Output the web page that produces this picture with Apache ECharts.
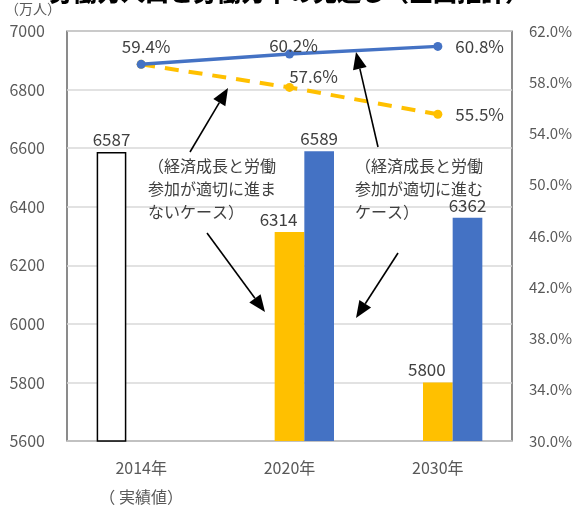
<!DOCTYPE html>
<html>
<head>
<meta charset="utf-8">
<script src="https://cdn.jsdelivr.net/npm/echarts@6/dist/echarts.min.js"></script>
<style>
  html, body { margin: 0; padding: 0; background: #fff; }
  #chart { width: 578px; height: 506px; }
</style>
</head>
<body>
<div id="chart"></div>
<script>
var years = ['2014年\n（ 実績値）', '2020年', '2030年'];
var actual = [6587, '-', '-'];
var workLow = ['-', 6314, 5800];   // 適切に進まないケース
var workHigh = ['-', 6589, 6362];  // 適切に進むケース
var rateLow = [59.4, 57.6, 55.5];
var rateHigh = [59.4, 60.2, 60.8];

var font = 'Noto Sans CJK JP';
var txt = '#404040';

function arrow(x1, y1, x2, y2){
    var dx = x2 - x1, dy = y2 - y1;
    var len = Math.sqrt(dx*dx + dy*dy);
    var ux = dx/len, uy = dy/len;
    var hl = 17, hw = 7;
    var bx = x2 - ux*hl, by = y2 - uy*hl;
    return [
        {type:'line', shape:{x1:x1, y1:y1, x2:bx, y2:by}, style:{stroke:'#000', lineWidth:1.6}, z:20},
        {type:'polygon', shape:{points:[[x2,y2],[bx - uy*hw, by + ux*hw],[bx + uy*hw, by - ux*hw]]}, style:{fill:'#000'}, z:20}
    ];
}

var chart = echarts.init(document.getElementById('chart'));
var graphics = [
    {type:'text', left:'center', top:-20, style:{text:'労働力人口と労働力率の見通し（全国推計）', font:'900 24px "' + font + '"', fill:'#000'}},
    {type:'text', left:5, top:2, style:{text:'（万人）', font:'14px "' + font + '"', fill:'#595959'}},
    {type:'text', left:148, top:154, style:{text:'（経済成長と労働\n参加が適切に進ま\nないケース）', font:'16px "' + font + '"', lineHeight:23, fill:txt}, z:20},
    {type:'text', left:355, top:154, style:{text:'（経済成長と労働\n参加が適切に進む\nケース）', font:'16px "' + font + '"', lineHeight:23, fill:txt}, z:20}
];
graphics = graphics.concat(arrow(190, 152, 228, 88), arrow(378, 147, 356, 52),
                           arrow(207, 233, 265, 312), arrow(398, 253, 356, 318));

chart.setOption({
    textStyle: {fontFamily: font},
    grid: {left:67, right:66, top:31, bottom:65, show:true, borderColor:'#404040', borderWidth:1.2, outerBoundsMode:'none', containLabel:false},
    xAxis: {
        type:'category',
        data: years,
        axisTick:{show:false},
        axisLine:{lineStyle:{color:'#bfbfbf', width:1.5}},
        axisLabel:{interval:0, margin:12, fontSize:16, lineHeight:29, color:'#595959'}
    },
    yAxis: [
        {
            type:'value', min:5600, max:7000, interval:200,
            axisLabel:{fontSize:16, color:'#595959', margin:22, formatter:function(v){ return String(v); }},
            splitLine:{lineStyle:{color:'#d9d9d9', width:1.5}}
        },
        {
            type:'value', min:30, max:62, interval:4,
            axisLabel:{fontSize:15, color:'#595959', margin:17, formatter:function(v){ return v.toFixed(1) + '%'; }},
            splitLine:{show:false}
        }
    ],
    graphic: graphics,
    series: [
        {
            type:'bar', data: actual, barGap:0, barCategoryGap:'40%',
            itemStyle:{color:'#fff', borderColor:'#000', borderWidth:1.5},
            label:{show:true, position:'top', fontSize:17, color:txt, distance:4}
        },
        {
            type:'bar', data: workLow,
            itemStyle:{color:'#FFC000'},
            label:{show:true, position:'top', fontSize:17, color:txt, distance:4, offset:[-11,0]}
        },
        {
            type:'bar', data: workHigh,
            itemStyle:{color:'#4472C4'},
            label:{show:true, position:'top', fontSize:17, color:txt, distance:4}
        },
        {
            type:'line', yAxisIndex:1,
            symbol:'circle', symbolSize:9, z:5,
            lineStyle:{color:'#FFC000', width:4, type:[14,10]},
            itemStyle:{color:'#FFC000'},
            label:{show:true, fontSize:17, color:txt, position:'right', offset:[8,0],
                formatter:function(p){ return p.dataIndex === 0 ? '' : p.value.toFixed(1) + '%'; }},
            data: rateLow.map(function(v, i){
                if (i === 1) return {value:v, label:{position:'top', offset:[24,7]}};
                return v;
            })
        },
        {
            type:'line', yAxisIndex:1,
            symbol:'circle', symbolSize:9, z:6,
            lineStyle:{color:'#4472C4', width:3.5},
            itemStyle:{color:'#4472C4'},
            label:{show:true, fontSize:17, color:txt, formatter:function(p){ return p.value.toFixed(1) + '%'; }},
            data: rateHigh.map(function(v, i){
                if (i === 0) return {value:v, label:{position:'top', offset:[5,0]}};
                if (i === 1) return {value:v, label:{position:'top', offset:[4,9]}};
                return {value:v, label:{position:'right', offset:[8,0]}};
            })
        }
    ]
});
</script>
</body>
</html>
